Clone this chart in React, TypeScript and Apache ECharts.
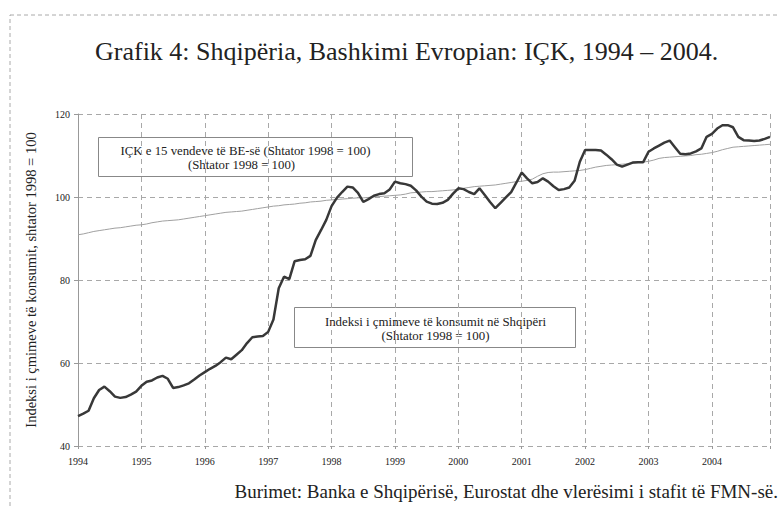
import React, { useEffect, useRef } from "react";
import * as echarts from "echarts";

const years = ["1994", "1995", "1996", "1997", "1998", "1999", "2000", "2001", "2002", "2003", "2004"];

// Monthly CPI, Albania (Sep 1998 = 100), Jan 1994 – Dec 2004
const albania = [
  47.2, 47.8, 48.5, 51.5, 53.5, 54.3, 53.2, 51.9, 51.6, 51.8, 52.4, 53.1,
  54.5, 55.5, 55.8, 56.5, 56.9, 56.2, 54.0, 54.2, 54.6, 55.1, 56.0, 57.0,
  57.8, 58.6, 59.3, 60.2, 61.3, 60.9, 62.0, 63.1, 64.8, 66.2, 66.4, 66.5,
  67.5, 70.5, 78.0, 80.8, 80.2, 84.5, 84.8, 85.0, 85.8, 89.6, 92.0, 94.5,
  97.8, 99.8, 101.2, 102.5, 102.3, 101.0, 98.8, 99.5, 100.3, 100.7, 100.9, 101.8,
  103.7, 103.3, 103.1, 102.7, 101.6, 100.1, 98.9, 98.4, 98.3, 98.6, 99.3, 100.8,
  102.1, 101.9, 101.2, 100.7, 102.1, 100.5, 98.8, 97.3, 98.6, 99.9, 101.2, 103.5,
  105.9, 104.5, 103.3, 103.6, 104.5, 103.7, 102.6, 101.7, 101.9, 102.3, 103.9, 108.5,
  111.3, 111.3, 111.3, 111.2, 110.2, 109.1, 107.8, 107.3, 107.8, 108.3, 108.4, 108.4,
  110.9, 111.7, 112.4, 113.1, 113.6, 112.0, 110.4, 110.3, 110.5, 111.0, 111.7, 114.5,
  115.2, 116.5, 117.3, 117.3, 116.8, 114.5, 113.7, 113.6, 113.5, 113.6, 114.0, 114.5,
];

// Monthly HICP, EU-15 (Sep 1998 = 100)
const eu15 = [
  90.9, 91.1, 91.4, 91.7, 91.9, 92.1, 92.3, 92.5, 92.6, 92.8, 93.0, 93.2,
  93.3, 93.5, 93.8, 94.0, 94.2, 94.3, 94.4, 94.5, 94.7, 94.9, 95.1, 95.3,
  95.5, 95.7, 95.9, 96.1, 96.3, 96.4, 96.5, 96.6, 96.8, 97.0, 97.2, 97.4,
  97.6, 97.8, 97.9, 98.1, 98.2, 98.3, 98.5, 98.6, 98.8, 98.9, 99.0, 99.2,
  99.3, 99.4, 99.5, 99.6, 99.7, 99.8, 99.8, 99.9, 100.0, 100.1, 100.2, 100.3,
  100.4, 100.5, 100.7, 101.0, 101.1, 101.2, 101.3, 101.3, 101.4, 101.5, 101.6, 101.7,
  101.9, 102.1, 102.3, 102.5, 102.6, 102.7, 102.8, 102.9, 103.1, 103.3, 103.5, 103.7,
  103.8, 104.0, 104.3, 105.0, 105.6, 105.9, 106.0, 106.0, 106.1, 106.2, 106.3, 106.4,
  106.6, 106.9, 107.2, 107.4, 107.6, 107.7, 107.8, 107.9, 108.0, 108.1, 108.3, 108.4,
  108.6, 108.9, 109.3, 109.5, 109.6, 109.7, 109.8, 109.9, 110.0, 110.2, 110.3, 110.5,
  110.7, 111.0, 111.4, 111.7, 112.0, 112.1, 112.2, 112.3, 112.4, 112.5, 112.6, 112.7,
];

const titleText = "Grafik 4: Shqipëria, Bashkimi Evropian: IÇK, 1994 – 2004.";
const sourceText = "Burimet: Banka e Shqipërisë, Eurostat dhe vlerësimi i stafit të FMN-së.";
const yName = "Indeksi i çmimeve të konsumit, shtator 1998 = 100";
const euLabel = ["IÇK e 15 vendeve të BE-së (Shtator 1998 = 100)", "(Shtator 1998 = 100)"];
const alLabel = ["Indeksi i çmimeve të konsumit në Shqipëri", "(Shtator 1998 = 100)"];

const SERIF = "Liberation Serif";

export default function App() {
  const ref = useRef<HTMLDivElement>(null);
  useEffect(() => {
    if (!ref.current) return;
    const chart = echarts.init(ref.current, null, { renderer: "svg" });
    const gridColor = "#a8a8a8";
    const txt = (text: string, x: number, y: number, size: number) => ({
      type: "text",
      x,
      y,
      style: {
        text,
        fontFamily: SERIF,
        fontSize: size,
        fill: "#222",
        align: "center",
        verticalAlign: "middle",
      },
    });
    chart.setOption({
      animation: false,
      backgroundColor: "#ffffff",
      textStyle: { fontFamily: SERIF },
      title: {
        text: titleText,
        left: 90,
        top: 33,
        textStyle: { fontFamily: SERIF, fontSize: 26, fontWeight: "normal", color: "#222" },
      },
      grid: { left: 78, right: 9, top: 114, bottom: 61 },
      xAxis: {
        type: "value",
        min: 0,
        max: 131,
        interval: 12,
        axisLine: { show: false },
        axisTick: { show: true, length: 3, lineStyle: { color: "#999" } },
        axisLabel: {
          fontFamily: SERIF,
          fontSize: 10,
          color: "#222",
          margin: 10,
          formatter: (v: number) => (v % 12 === 0 ? years[v / 12] : ""),
        },
        splitLine: { show: true, lineStyle: { color: gridColor, type: [5, 4], width: 1 } },
      },
      yAxis: {
        type: "value",
        min: 40,
        max: 120,
        interval: 20,
        name: yName,
        nameLocation: "middle",
        nameGap: 40,
        nameTextStyle: { fontFamily: SERIF, fontSize: 14.5, color: "#222" },
        axisLine: { show: true, lineStyle: { color: "#999", width: 1 } },
        axisTick: { show: true, length: 4, lineStyle: { color: "#999" } },
        axisLabel: { fontFamily: SERIF, fontSize: 10, color: "#222", margin: 8 },
        splitLine: { show: true, lineStyle: { color: gridColor, type: [5, 4], width: 1 } },
      },
      series: [
        {
          name: "EU15",
          type: "line",
          data: eu15.map((v, i) => [i, v]),
          symbol: "none",
          lineStyle: { color: "#a0a0a0", width: 1 },
          z: 2,
        },
        {
          name: "Albania",
          type: "line",
          data: albania.map((v, i) => [i, v]),
          symbol: "none",
          lineStyle: { color: "#383838", width: 2.5 },
          z: 3,
        },
      ],
      graphic: [
        {
          type: "rect",
          shape: { x: 10, y: 15, width: 800, height: 520 },
          style: { fill: "none", stroke: "#aaa", lineWidth: 1, lineDash: [4, 3] },
          silent: true,
          z: 0,
        },
        {
          type: "group",
          left: 98,
          top: 137,
          children: [
            {
              type: "rect",
              shape: { x: 0, y: 0, width: 314, height: 39 },
              style: { fill: "#fff", stroke: "#888", lineWidth: 1 },
            },
            txt(euLabel[0], 147, 13, 12.8),
            txt(euLabel[1], 143, 27, 12.8),
          ],
          z: 10,
        },
        {
          type: "group",
          left: 294,
          top: 307,
          children: [
            {
              type: "rect",
              shape: { x: 0, y: 0, width: 281, height: 40 },
              style: { fill: "#fff", stroke: "#888", lineWidth: 1 },
            },
            txt(alLabel[0], 141, 14, 12.9),
            txt(alLabel[1], 141, 28, 12.9),
          ],
          z: 10,
        },
        {
          type: "text",
          right: 1,
          top: 482,
          style: { text: sourceText, fontFamily: SERIF, fontSize: 19, fill: "#222" },
          z: 10,
        },
      ],
    });
    return () => chart.dispose();
  }, []);
  return <div ref={ref} style={{ width: 779, height: 507, position: "absolute", left: 0, top: 0 }} />;
}
